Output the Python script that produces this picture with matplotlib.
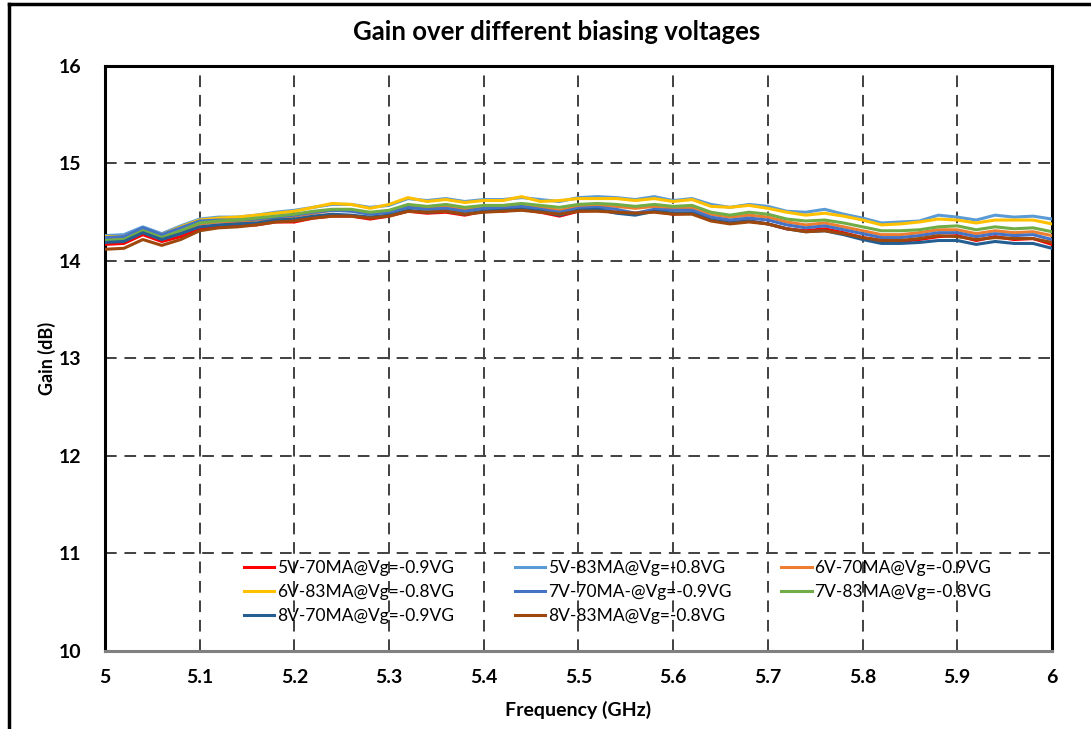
import matplotlib
matplotlib.use("Agg")
import matplotlib.pyplot as plt
from matplotlib.lines import Line2D

plt.rcParams["font.family"] = ["Lato", "DejaVu Sans"]

freq = [5.00, 5.02, 5.04, 5.06, 5.08, 5.10, 5.12, 5.14, 5.16, 5.18,
        5.20, 5.22, 5.24, 5.26, 5.28, 5.30, 5.32, 5.34, 5.36, 5.38,
        5.40, 5.42, 5.44, 5.46, 5.48, 5.50, 5.52, 5.54, 5.56, 5.58,
        5.60, 5.62, 5.64, 5.66, 5.68, 5.70, 5.72, 5.74, 5.76, 5.78,
        5.80, 5.82, 5.84, 5.86, 5.88, 5.90, 5.92, 5.94, 5.96, 5.98, 6.00]

gain_5v70 = [14.17, 14.18, 14.27, 14.20, 14.25, 14.33, 14.35, 14.36, 14.37, 14.40,
             14.40, 14.44, 14.46, 14.46, 14.43, 14.46, 14.51, 14.49, 14.50, 14.47,
             14.51, 14.51, 14.53, 14.50, 14.46, 14.51, 14.52, 14.50, 14.49, 14.51,
             14.48, 14.49, 14.42, 14.39, 14.41, 14.38, 14.33, 14.31, 14.33, 14.29,
             14.24, 14.21, 14.20, 14.22, 14.25, 14.26, 14.21, 14.25, 14.22, 14.23, 14.17]
gain_5v83 = [14.26, 14.27, 14.35, 14.28, 14.36, 14.43, 14.45, 14.45, 14.47, 14.50,
             14.52, 14.55, 14.58, 14.58, 14.55, 14.57, 14.64, 14.62, 14.64, 14.61,
             14.63, 14.63, 14.65, 14.63, 14.61, 14.65, 14.66, 14.65, 14.63, 14.66,
             14.62, 14.64, 14.58, 14.55, 14.58, 14.56, 14.51, 14.50, 14.53, 14.48,
             14.44, 14.39, 14.40, 14.41, 14.47, 14.45, 14.42, 14.47, 14.45, 14.46, 14.43]
gain_6v70 = [14.22, 14.23, 14.32, 14.24, 14.30, 14.38, 14.40, 14.40, 14.42, 14.44,
             14.46, 14.49, 14.52, 14.52, 14.49, 14.51, 14.57, 14.55, 14.56, 14.53,
             14.56, 14.56, 14.58, 14.55, 14.52, 14.56, 14.57, 14.56, 14.54, 14.56,
             14.54, 14.55, 14.48, 14.45, 14.47, 14.45, 14.40, 14.37, 14.39, 14.35,
             14.31, 14.27, 14.27, 14.29, 14.32, 14.32, 14.28, 14.31, 14.29, 14.30, 14.26]
gain_6v83 = [14.25, 14.25, 14.33, 14.27, 14.35, 14.42, 14.44, 14.45, 14.47, 14.49,
             14.51, 14.55, 14.59, 14.58, 14.54, 14.58, 14.65, 14.61, 14.63, 14.60,
             14.62, 14.62, 14.66, 14.61, 14.62, 14.64, 14.64, 14.64, 14.62, 14.64,
             14.61, 14.63, 14.56, 14.55, 14.57, 14.54, 14.50, 14.47, 14.49, 14.46,
             14.42, 14.37, 14.38, 14.40, 14.43, 14.42, 14.39, 14.42, 14.42, 14.42, 14.38]
gain_7v70 = [14.24, 14.25, 14.34, 14.27, 14.34, 14.41, 14.42, 14.42, 14.43, 14.45,
             14.47, 14.50, 14.52, 14.51, 14.48, 14.50, 14.55, 14.53, 14.54, 14.51,
             14.54, 14.54, 14.56, 14.53, 14.50, 14.54, 14.55, 14.53, 14.49, 14.53,
             14.52, 14.52, 14.45, 14.42, 14.44, 14.42, 14.37, 14.34, 14.36, 14.32,
             14.28, 14.24, 14.24, 14.26, 14.29, 14.29, 14.25, 14.28, 14.26, 14.27, 14.22]
gain_7v83 = [14.21, 14.22, 14.31, 14.24, 14.31, 14.39, 14.41, 14.42, 14.44, 14.46,
             14.48, 14.51, 14.53, 14.53, 14.50, 14.52, 14.58, 14.56, 14.58, 14.55,
             14.57, 14.57, 14.59, 14.57, 14.55, 14.58, 14.59, 14.58, 14.56, 14.58,
             14.56, 14.57, 14.50, 14.47, 14.50, 14.48, 14.43, 14.41, 14.42, 14.39,
             14.35, 14.31, 14.31, 14.32, 14.35, 14.36, 14.32, 14.35, 14.33, 14.34, 14.30]
gain_8v70 = [14.19, 14.20, 14.29, 14.22, 14.28, 14.35, 14.37, 14.38, 14.39, 14.42,
             14.43, 14.46, 14.48, 14.47, 14.45, 14.47, 14.52, 14.50, 14.51, 14.48,
             14.51, 14.52, 14.53, 14.51, 14.47, 14.52, 14.53, 14.49, 14.47, 14.51,
             14.49, 14.49, 14.42, 14.39, 14.41, 14.38, 14.33, 14.30, 14.31, 14.27,
             14.22, 14.18, 14.18, 14.19, 14.21, 14.21, 14.17, 14.20, 14.18, 14.18, 14.13]
gain_8v83 = [14.12, 14.13, 14.22, 14.16, 14.22, 14.31, 14.34, 14.35, 14.37, 14.40,
             14.41, 14.44, 14.46, 14.46, 14.44, 14.46, 14.51, 14.50, 14.51, 14.48,
             14.50, 14.51, 14.52, 14.50, 14.48, 14.51, 14.51, 14.50, 14.49, 14.50,
             14.48, 14.48, 14.41, 14.38, 14.40, 14.38, 14.33, 14.30, 14.31, 14.28,
             14.24, 14.21, 14.21, 14.23, 14.26, 14.25, 14.22, 14.24, 14.23, 14.23, 14.19]

labels = ["5V-70MA@Vg=-0.9VG", "5V-83MA@Vg=-0.8VG", "6V-70MA@Vg=-0.9VG",
          "6V-83MA@Vg=-0.8VG", "7V-70MA-@Vg=-0.9VG", "7V-83MA@Vg=-0.8VG",
          "8V-70MA@Vg=-0.9VG", "8V-83MA@Vg=-0.8VG"]
series = [gain_5v70, gain_5v83, gain_6v70, gain_6v83,
          gain_7v70, gain_7v83, gain_8v70, gain_8v83]
colors = ["#FF0000", "#5B9BD5", "#ED7D31", "#FFC000",
          "#4472C4", "#70AD47", "#255E91", "#9E480E"]

fig = plt.figure(figsize=(10.91, 7.29), dpi=100)
ax = fig.add_axes([0.0962, 0.107, 0.868, 0.8025])

handles = []
for vals, lab, col in zip(series, labels, colors):
    h, = ax.plot(freq, vals, color=col, linewidth=2.2, label=lab, zorder=3)
    handles.append(h)

ax.set_xlim(5, 6)
ax.set_ylim(10, 16)
ax.set_xticks([5, 5.1, 5.2, 5.3, 5.4, 5.5, 5.6, 5.7, 5.8, 5.9, 6])
ax.set_xticklabels(["5", "5.1", "5.2", "5.3", "5.4", "5.5", "5.6", "5.7", "5.8", "5.9", "6"])
ax.set_yticks([10, 11, 12, 13, 14, 15, 16])
ax.grid(True, color="#404040", linestyle=(0, (6, 4)), linewidth=1.4)
ax.tick_params(length=0, labelsize=14)
ax.tick_params(axis="y", pad=17)
ax.tick_params(axis="x", pad=13)
for lbl in ax.get_xticklabels() + ax.get_yticklabels():
    lbl.set_fontweight("bold")

for side in ["left", "top", "right"]:
    ax.spines[side].set_color("black")
    ax.spines[side].set_linewidth(2.2)
ax.spines["bottom"].set_color("#808080")
ax.spines["bottom"].set_linewidth(2.2)

ax.set_xlabel("Frequency (GHz)", fontsize=14, fontweight="bold", labelpad=11)
ax.set_ylabel("Gain (dB)", fontsize=13, fontweight="bold", labelpad=2)
fig.text(0.51, 0.956, "Gain over different biasing voltages",
         ha="center", va="center", fontsize=18.5, fontweight="bold")

# legend laid out row by row like the spreadsheet original
cols = [[0, 3, 6], [1, 4, 7], [2, 5]]
xs = [0.2236, 0.472, 0.716]
for idx, x0 in zip(cols, xs):
    fig.legend([handles[i] for i in idx], [labels[i] for i in idx],
               loc="upper left", bbox_to_anchor=(x0, 0.2318),
               frameon=False, fontsize=12.5, borderpad=0, borderaxespad=0,
               handlelength=1.75, handletextpad=0.17, labelspacing=0.47)

# outer chart frame (left and top edges visible)
fig.add_artist(Line2D([0.0083, 0.0083], [0, 0.9945], color="black", linewidth=2.5,
                      transform=fig.transFigure))
fig.add_artist(Line2D([0.0083, 1.0], [0.9945, 0.9945], color="black", linewidth=2.5,
                      transform=fig.transFigure))

fig.savefig("out.png", dpi=100)
